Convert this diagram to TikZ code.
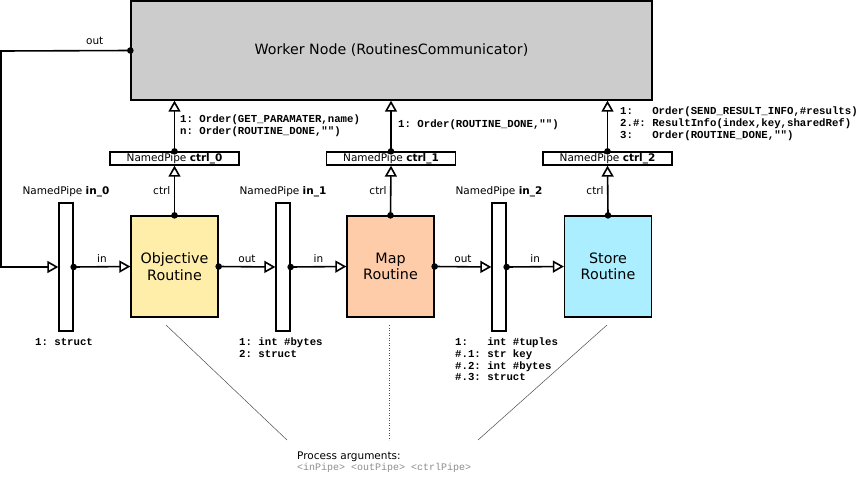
\documentclass[tikz,border=0pt]{standalone}
\usepackage{fontspec}
\setmainfont{DejaVu Sans}
\setmonofont{Liberation Mono}
\usetikzlibrary{arrows.meta,positioning}

\begin{document}
\begin{tikzpicture}[
    x=1pt, y=-1pt,
    font=\fontsize{10.5}{12}\selectfont,
    worker/.style={draw, fill=black!20, line width=1.3pt, minimum width=521pt, minimum height=99pt, font=\fontsize{14.2}{16}\selectfont},
    routine/.style={draw, line width=1.3pt, minimum width=87pt, minimum height=101pt, align=center, font=\fontsize{14.3}{16.5}\selectfont},
    pipev/.style={draw, fill=white, line width=1.3pt, minimum width=14pt, minimum height=128pt, inner sep=0pt},
    pipeh/.style={draw, fill=white, line width=1.3pt, minimum width=129pt, minimum height=13pt, inner sep=0pt},
    flow/.style={-{Triangle[open, length=11pt, width=12pt, fill=white]}, line width=1.6pt, draw=black},
    msg/.style={anchor=north west, align=left, inner sep=0pt, font=\ttfamily\bfseries\fontsize{10.7}{11.6}\selectfont},
    guide/.style={draw=black!70, line width=0.5pt}
]
    \useasboundingbox (0,0) rectangle (857,477);

    % Nodes
    \node[worker] (worker) at (391.5,50.5) {Worker Node (RoutinesCommunicator)};

    \node[routine, fill={rgb,255:red,255;green,238;blue,170}] (objective) at (174.5,266.5) {Objective\\Routine};
    \node[routine, fill={rgb,255:red,255;green,204;blue,170}] (map) at (390.5,266.5) {Map\\Routine};
    \node[routine, fill={rgb,255:red,170;green,238;blue,255}] (store) at (608,266.5) {Store\\Routine};

    \node[pipev] (in0) at (66,267) {};
    \node[pipev] (in1) at (283,267) {};
    \node[pipev] (in2) at (499,267) {};

    \node[pipeh] (ctrl0) at (174.5,158.5) {NamedPipe \textbf{ctrl\_0}};
    \node[pipeh] (ctrl1) at (391,158.5) {NamedPipe \textbf{ctrl\_1}};
    \node[pipeh] (ctrl2) at (607.5,158.5) {NamedPipe \textbf{ctrl\_2}};

    \node[above=2pt of in0] (in0name) {NamedPipe \textbf{in\_0}};
    \node[above=2pt of in1] (in1name) {NamedPipe \textbf{in\_1}};
    \node[above=2pt of in2] (in2name) {NamedPipe \textbf{in\_2}};

    \node[msg, anchor=north] (in0data) at (64,338) {1: struct};
    \node[msg] (in1data) at (239,338) {1: int \#bytes\\2: struct};
    \node[msg] (in2data) at (455,338) {1:~~~int \#tuples\\\#.1: str key\\\#.2: int \#bytes\\\#.3: struct};

    \node[msg] (ctrl0msg) at (180,115) {1: Order(GET\_PARAMATER,name)\\n: Order(ROUTINE\_DONE,"")};
    \node[msg] (ctrl1msg) at (398,120) {1: Order(ROUTINE\_DONE,"")};
    \node[msg] (ctrl2msg) at (620,107) {1:~~~Order(SEND\_RESULT\_INFO,\#results)\\2.\#: ResultInfo(index,key,sharedRef)\\3:~~~Order(ROUTINE\_DONE,"")};

    \node[anchor=north west, align=left, inner sep=0pt] (args) at (297,452) {Process arguments:\\[-1pt]
        {\ttfamily\color{black!45}\fontsize{10}{11}\selectfont <inPipe> <outPipe> <ctrlPipe>}};

    \coordinate (wrap) at (1,51);

    % Links
    \draw[flow] (worker.west) -- node[above=2pt, xshift=29pt] {out} (wrap) |- (in0.west);
    \draw[flow] (in0.east) -- node[above] {in} (objective.west);
    \draw[flow] (objective.east) -- node[above] {out} (in1.west);
    \draw[flow] (in1.east) -- node[above] {in} (map.west);
    \draw[flow] (map.east) -- node[above] {out} (in2.west);
    \draw[flow] (in2.east) -- node[above] {in} (store.west);

    \draw[flow] (objective.north) -- node[left] {ctrl} (ctrl0.south);
    \draw[flow] (map.north) -- node[left] {ctrl} (ctrl1.south);
    \draw[flow] (store.north) -- node[left] {ctrl} (ctrl2.south);

    \draw[flow] (ctrl0.north) -- (ctrl0.north |- worker.south);
    \draw[flow] (ctrl1.north) -- (ctrl1.north |- worker.south);
    \draw[flow] (ctrl2.north) -- (ctrl2.north |- worker.south);

    \foreach \d in {worker.west, in0.east, in1.east, in2.east, objective.east, map.east,
        objective.north, map.north, store.north, ctrl0.north, ctrl1.north, ctrl2.north}
        \fill[black] (\d) circle (3.3pt);

    % Process arguments
    \draw[guide] (166,325) -- (287,440);
    \draw[guide, dotted] (389,325) -- (389,440);
    \draw[guide] (607,325) -- (478,440);
\end{tikzpicture}
\end{document}
